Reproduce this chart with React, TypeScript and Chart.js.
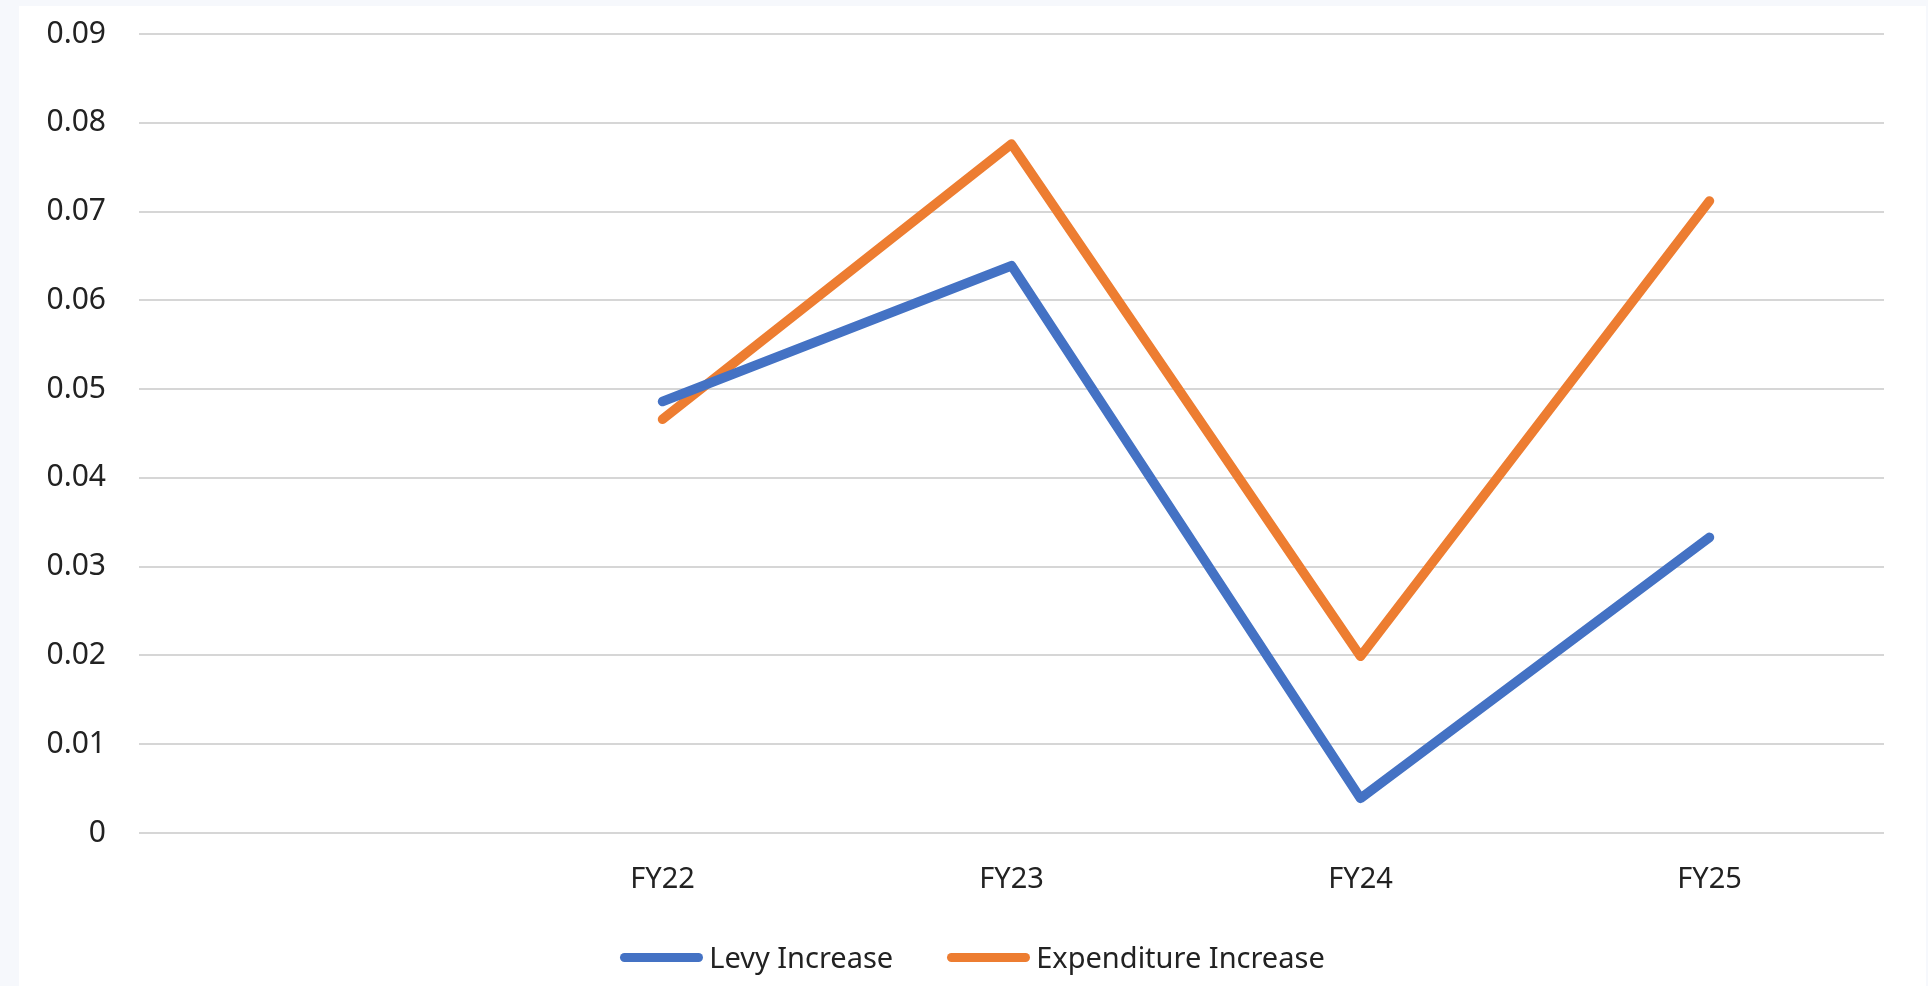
import React, { useEffect, useRef } from "react";
import { Chart, registerables } from "chart.js";

Chart.register(...registerables);

const categories = ["", "FY22", "FY23", "FY24", "FY25"];
const levyIncrease = [null, 0.0486, 0.0639, 0.0039, 0.0333];
const expenditureIncrease = [null, 0.0466, 0.0776, 0.0199, 0.0712];
const yTickLabels = ["0", "0.01", "0.02", "0.03", "0.04", "0.05", "0.06", "0.07", "0.08", "0.09"];
const seriesNames = ["Levy Increase", "Expenditure Increase"];
const seriesColors = ["#4472C4", "#ED7D31"];

const FONT = "'Noto Sans', 'Open Sans', sans-serif";
const TEXT_COLOR = "#222222";

export default function App() {
  const canvasRef = useRef<HTMLCanvasElement | null>(null);

  useEffect(() => {
    const canvas = canvasRef.current;
    if (!canvas) return;
    const chart = new Chart(canvas, {
      type: "line",
      data: {
        labels: categories,
        datasets: [
          {
            label: seriesNames[0],
            data: levyIncrease,
            borderColor: seriesColors[0],
            backgroundColor: seriesColors[0],
            borderWidth: 9.5,
            borderCapStyle: "round",
            borderJoinStyle: "round",
            pointRadius: 0,
            tension: 0,
          },
          {
            label: seriesNames[1],
            data: expenditureIncrease,
            borderColor: seriesColors[1],
            backgroundColor: seriesColors[1],
            borderWidth: 9.5,
            borderCapStyle: "round",
            borderJoinStyle: "round",
            pointRadius: 0,
            tension: 0,
          },
        ],
      },
      options: {
        responsive: false,
        animation: false,
        layout: { padding: { top: 28, right: 42, bottom: 0, left: 0 } },
        plugins: {
          legend: { display: false },
          tooltip: { enabled: false },
        },
        scales: {
          x: {
            type: "category",
            offset: true,
            grid: { display: false, drawTicks: false },
            border: { display: false },
            ticks: {
              autoSkip: false,
              maxRotation: 0,
              padding: 29,
              color: TEXT_COLOR,
              font: { family: FONT, size: 29 },
            },
            afterFit: (s: any) => {
              s.height = 153;
            },
          },
          y: {
            min: 0,
            max: 0.09,
            grid: { color: "#d6d6d6", lineWidth: 2, drawTicks: false },
            border: { display: false },
            ticks: {
              stepSize: 0.01,
              padding: 33,
              color: TEXT_COLOR,
              font: { family: FONT, size: 30 },
              callback: (_v: any, i: number) => yTickLabels[i],
            },
            afterFit: (s: any) => {
              s.width = 120;
              s.paddingTop = 0;
              s.paddingBottom = 0;
            },
          },
        },
      },
    });
    return () => chart.destroy();
  }, []);

  return (
    <div
      style={{
        position: "fixed",
        left: 0,
        top: 0,
        width: 1928,
        height: 986,
        background: "#f6f8fc",
        overflow: "hidden",
      }}
    >
      <div
        style={{
          position: "absolute",
          left: 19,
          top: 6,
          width: 1907,
          height: 980,
          background: "#ffffff",
        }}
      >
        <canvas ref={canvasRef} width={1907} height={980} style={{ display: "block" }} />
        <div
          style={{
            position: "absolute",
            left: 0,
            width: 1907,
            top: 951 - 20,
            height: 40,
            display: "flex",
            justifyContent: "center",
            alignItems: "center",
            gap: 54,
            fontFamily: FONT,
            fontSize: 29,
            color: TEXT_COLOR,
          }}
        >
          {seriesNames.map((name, i) => (
            <div key={name} style={{ display: "flex", alignItems: "center", gap: 6 }}>
              <div
                style={{
                  width: 83,
                  height: 9,
                  borderRadius: 5,
                  background: seriesColors[i],
                }}
              />
              <span style={{ lineHeight: "40px", whiteSpace: "nowrap" }}>{name}</span>
            </div>
          ))}
        </div>
      </div>
    </div>
  );
}
